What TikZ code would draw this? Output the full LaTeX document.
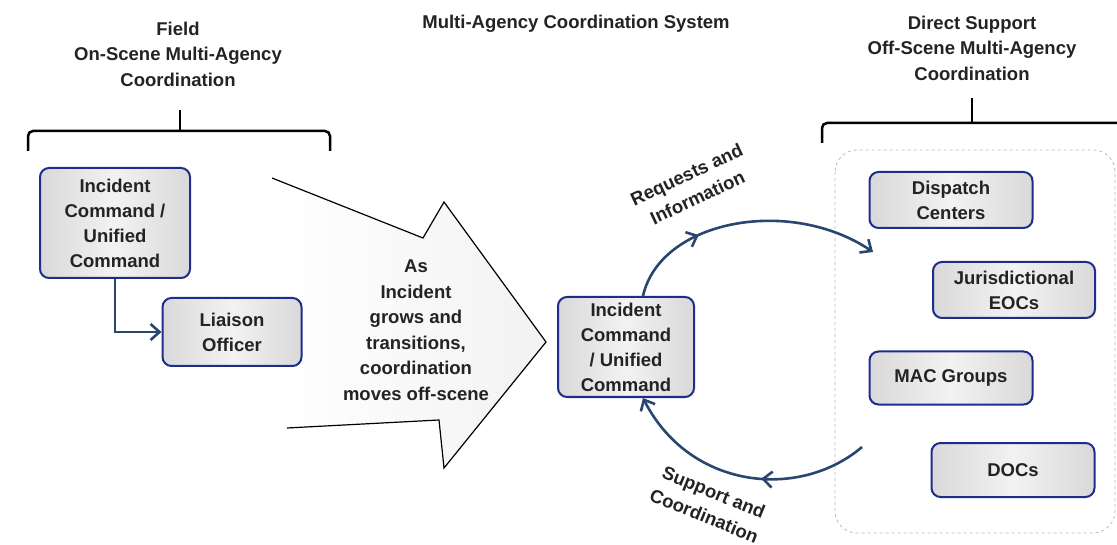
\documentclass[tikz,border=0pt]{standalone}
\usepackage{fontspec}
\setmainfont{Liberation Sans}
\usetikzlibrary{arrows.meta,decorations.markings}

\definecolor{boxblue}{RGB}{30,45,140}
\definecolor{linkblue}{RGB}{40,70,110}
\definecolor{txtgray}{RGB}{35,35,35}

\tikzset{
  unitbox/.style={draw=boxblue, line width=2pt, rounded corners=9pt,
    left color=gray!30, right color=gray!30, middle color=gray!10,
    text=txtgray, align=center, inner sep=1pt,
    font=\bfseries\fontsize{18.5}{25}\selectfont},
  heading/.style={text=txtgray, align=center, inner sep=1pt, font=\bfseries\fontsize{18.5}{25.5}\selectfont},
  brace/.style={line width=2.5pt, rounded corners=5pt},
  link/.style={draw=linkblue, line width=2.6pt, -{Straight Barb[length=9pt,width=16pt,line width=2.6pt]}},
  midtip/.style={postaction={decorate}, decoration={markings,
    mark=at position #1 with {\arrow{Straight Barb[length=9pt,width=16pt,line width=2.6pt]}}}}
}

\begin{document}
\begin{tikzpicture}[x=1pt,y=-1pt]
\useasboundingbox (0,0) rectangle (1117,545);

% headings
\node[heading] (fieldhead) at (178,54) {Field\\On-Scene Multi-Agency\\Coordination};
\node[heading] (machead) at (576,24) {Multi-Agency Coordination System};
\node[heading] (offhead) at (972,48) {Direct Support\\Off-Scene Multi-Agency\\Coordination};

% brackets
\draw[brace] (28,151) -- (28,131) -- (330,131) -- (330,151);
\draw[line width=2.5pt] (180,131) -- (180,110);
\draw[brace] (822,143) -- (822,123) -- (1130,123);
\draw[line width=2.5pt] (972,123) -- (972,98);

% off-scene group
\draw[gray!55, dashed, line width=0.8pt, rounded corners=22pt] (835,150) rectangle (1115,533);

% transition arrow
\shade[left color=white, right color=gray!10]
  (272,178) -- (423,238) -- (444,202) -- (546,342) -- (444,468) -- (439,420) -- (287,428) -- cycle;
\draw[line width=1.2pt, line join=miter]
  (272,178) -- (423,238) -- (444,202) -- (546,342) -- (444,468) -- (439,420) -- (287,428);
\node[heading] (growtext) at (416,330) {As\\Incident\\grows and\\transitions,\\coordination\\moves off-scene};

% field
\node[unitbox, minimum width=150pt, minimum height=110pt] (icfield) at (115,223)
  {Incident\\Command /\\Unified\\Command};
\node[unitbox, minimum width=139pt, minimum height=68pt] (liaison) at (232,332)
  {Liaison\\Officer};
\draw[link] (icfield.south) |- (liaison.west);

% centre
\node[unitbox, minimum width=136pt, minimum height=100pt] (iccenter) at (626,347)
  {Incident\\Command\\/ Unified\\Command};

% off-scene units
\node[unitbox, minimum width=163pt, minimum height=56pt] (dispatch) at (951,200) {Dispatch\\Centers};
\node[unitbox, minimum width=162pt, minimum height=56pt] (juris) at (1014,290) {Jurisdictional\\EOCs};
\node[unitbox, minimum width=163pt, minimum height=53pt] (macgroups) at (951,378) {MAC Groups};
\node[unitbox, minimum width=163pt, minimum height=54pt] (docs) at (1013,470) {DOCs};

% cycle
\coordinate (reqend) at (873,252);
\coordinate (supstart) at (862,447);
\draw[link, midtip=0.32] ([xshift=17pt]iccenter.north) .. controls (660,220) and (790,196) .. (reqend);
\draw[link, midtip=0.42] (supstart) .. controls (800,500) and (690,490) .. ([xshift=17pt]iccenter.south);
\node[heading, rotate=25] (reqlabel) at (692,186) {Requests and\\Information};
\node[heading, rotate=-22] (suplabel) at (709,504) {Support and\\Coordination};
\end{tikzpicture}
\end{document}
